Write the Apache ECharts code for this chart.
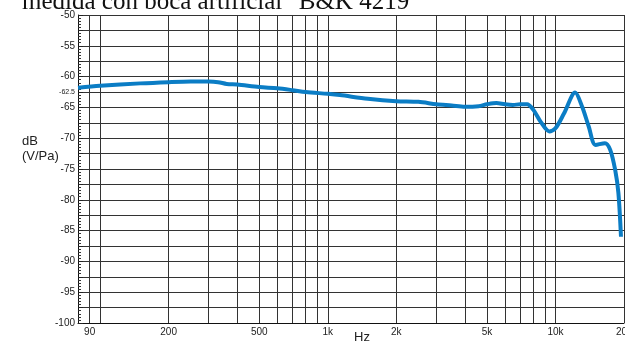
<!DOCTYPE html>
<html>
<head>
<meta charset="utf-8">
<script src="https://cdn.jsdelivr.net/npm/echarts@6/dist/echarts.min.js"></script>
<style>
html, body { margin: 0; padding: 0; background: #fff; }
#box { width: 625px; height: 342px; }
</style>
</head>
<body>
<div id="box"></div>
<script>
// respuesta en frecuencia (Hz -> dB V/Pa)
var freqs = [80, 100, 150, 200, 250, 300, 330, 360, 400, 500, 600, 700, 800, 1000, 1130, 1500,
  2000, 2500, 3000, 3500, 4000, 4600, 5000, 5500, 6000, 6500, 7000, 7500, 8000, 8600, 9400,
  10000, 10900, 12200, 13100, 14000, 15000, 16500, 17400, 18300, 18900, 19400];
var level = [-61.8, -61.5, -61.1, -60.9, -60.8, -60.8, -60.9, -61.2, -61.3, -61.7, -61.9, -62.2, -62.5, -62.8, -63.0, -63.6,
  -64.0, -64.1, -64.5, -64.7, -64.9, -64.8, -64.5, -64.3, -64.5, -64.6, -64.5, -64.5, -65.4, -67.3, -68.9,
  -68.4, -66.0, -62.6, -64.9, -68.1, -71.1, -70.8, -71.9, -75.2, -78.9, -86.0];

var gridFreqs = [90, 100, 200, 300, 400, 500, 600, 700, 800, 900, 1000,
  2000, 3000, 4000, 5000, 6000, 7000, 8000, 9000, 10000, 20000];
var xLabelFreqs = [90, 200, 500, 1000, 2000, 5000, 10000, 20000];
var xLabelTexts = ['90', '200', '500', '1k', '2k', '5k', '10k', '20k'];

var labelFont = '"Liberation Sans Narrow", "Liberation Sans", sans-serif';

function lg(f) { return Math.log10(f); }

var myChart = echarts.init(document.getElementById('box'));
var option = {
  animation: false,
  grid: { left: 78, right: 1, top: 15, bottom: 19, containLabel: false, outerBoundsMode: 'none' },
  graphic: [
    {
      type: 'text', x: 22, y: -10,
      style: { text: 'medida con boca artificial "B&K 4219"', font: '25px "Liberation Serif", serif', fill: '#111', verticalAlign: 'top' }
    },
    {
      type: 'text', x: 22, y: 134,
      style: { text: 'dB\n(V/Pa)', font: '13px "Liberation Sans", sans-serif', fill: '#222', lineHeight: 15, verticalAlign: 'top' }
    },
    {
      type: 'text', x: 354, y: 331,
      style: { text: 'Hz', font: '13px "Liberation Sans", sans-serif', fill: '#222', verticalAlign: 'top' }
    }
  ],
  xAxis: {
    type: 'value',
    min: lg(80),
    max: lg(20000),
    axisLine: { show: true, lineStyle: { color: '#111', width: 1 } },
    axisTick: { show: false, customValues: gridFreqs.map(lg) },
    axisLabel: {
      customValues: xLabelFreqs.map(lg),
      margin: 4,
      fontSize: 10,
      fontFamily: labelFont,
      color: '#222',
      formatter: function (v) {
        for (var i = 0; i < xLabelFreqs.length; i++) {
          if (Math.abs(lg(xLabelFreqs[i]) - v) < 1e-6) return xLabelTexts[i];
        }
        return '';
      }
    },
    splitLine: { show: true, lineStyle: { color: '#333', width: 1 } }
  },
  yAxis: {
    type: 'value',
    min: -100,
    max: -50,
    interval: 2.5,
    axisLine: { show: true, lineStyle: { color: '#111', width: 1 } },
    axisTick: { show: true, inside: true, length: 5, lineStyle: { color: '#222' } },
    minorTick: { show: true, splitNumber: 5, length: 3, lineStyle: { color: '#333' } },
    axisLabel: {
      margin: 3,
      fontSize: 10,
      fontFamily: labelFont,
      color: '#222',
      formatter: function (v) {
        if (Math.abs(v + 62.5) < 1e-6) return '{s|-62.5}';
        if (Math.abs(v % 5) < 1e-6) return String(v);
        return '';
      },
      rich: { s: { fontSize: 7, fontFamily: labelFont, color: '#222' } }
    },
    splitLine: { show: true, lineStyle: { color: '#333', width: 1 } }
  },
  series: [
    {
      type: 'line',
      data: freqs.map(function (f, i) { return [lg(f), level[i]]; }),
      showSymbol: false,
      smooth: 0.3,
      lineStyle: { color: '#0b7dc5', width: 4 },
      z: 5
    }
  ]
};
option && myChart.setOption(option);
</script>
</body>
</html>
